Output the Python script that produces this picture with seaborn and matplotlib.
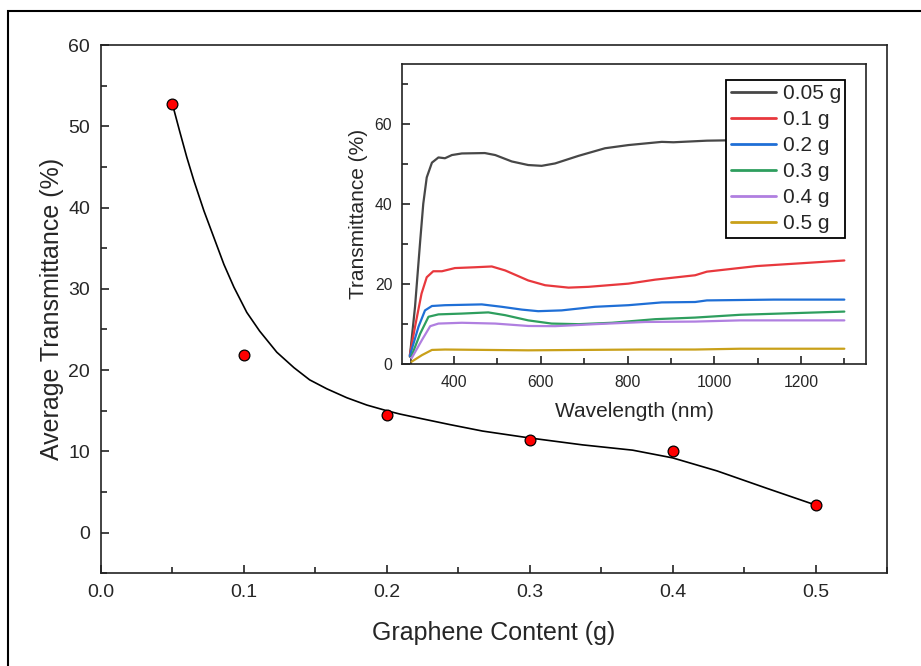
import numpy as np
import pandas as pd
import seaborn as sns
import matplotlib as mpl
mpl.use('Agg')
import matplotlib.pyplot as plt
from matplotlib.patches import Rectangle
from matplotlib.ticker import MultipleLocator

# ---------------------------------------------------------
# main panel: average transmittance vs graphene content
content = [0.05, 0.1, 0.2, 0.3, 0.4, 0.5]
avg_trans = [52.7, 21.9, 14.5, 11.4, 10.1, 3.4]

# smooth guide line
fit_x = [0.050, 0.055, 0.060, 0.065, 0.072, 0.079, 0.086, 0.093, 0.102, 0.111,
         0.123, 0.135, 0.146, 0.158, 0.172, 0.186, 0.200, 0.209, 0.225, 0.244,
         0.267, 0.300, 0.337, 0.372, 0.400, 0.431, 0.466, 0.500]
fit_y = [52.7, 49.4, 46.2, 43.3, 39.6, 36.3, 33.0, 30.2, 27.1, 24.8,
         22.2, 20.3, 18.8, 17.7, 16.6, 15.7, 15.0, 14.6, 14.0, 13.3,
         12.5, 11.65, 10.8, 10.15, 9.2, 7.6, 5.45, 3.4]

# inset: transmittance spectra
labels = ['0.05 g', '0.1 g', '0.2 g', '0.3 g', '0.4 g', '0.5 g']
colors = ['#474747', '#e8383d', '#1f6fd6', '#2e9e5e', '#b07fe0', '#c9a019']

wl_005 = [298, 310, 322, 329, 337, 349, 364, 379, 395, 418, 471, 495, 533, 571,
          602, 633, 687, 748, 802, 879, 906, 983, 1100, 1200, 1300]
tr_005 = [1.7, 14.2, 30.8, 40.0, 46.6, 50.3, 51.6, 51.4, 52.2, 52.6, 52.7, 52.2,
          50.6, 49.7, 49.5, 50.1, 52.0, 53.9, 54.7, 55.5, 55.4, 55.8, 56.0,
          56.1, 56.2]

wl_01 = [298, 310, 325, 337, 352, 372, 402, 448, 487, 518, 571, 610, 664, 710,
         802, 864, 956, 983, 1098, 1200, 1300]
tr_01 = [2.1, 9.2, 17.5, 21.6, 23.1, 23.1, 23.9, 24.1, 24.3, 23.3, 20.8, 19.6,
         19.0, 19.2, 20.0, 21.0, 22.1, 23.0, 24.4, 25.1, 25.8]

wl_02 = [298, 318, 333, 349, 379, 464, 510, 556, 594, 648, 725, 802, 879, 956,
         983, 1137, 1300]
tr_02 = [1.9, 9.2, 13.3, 14.4, 14.6, 14.8, 14.2, 13.5, 13.1, 13.3, 14.2, 14.6,
         15.3, 15.4, 15.8, 16.0, 16.0]

wl_03 = [302, 322, 341, 364, 418, 479, 518, 571, 625, 687, 764, 864, 956, 1060,
         1180, 1300]
tr_03 = [1.9, 7.5, 11.7, 12.3, 12.5, 12.8, 12.1, 10.8, 10.0, 9.85, 10.2, 11.1,
         11.5, 12.2, 12.6, 13.0]

wl_04 = [302, 326, 345, 364, 418, 495, 571, 633, 725, 841, 956, 1060, 1300]
tr_04 = [1.3, 5.9, 9.35, 10.0, 10.2, 10.0, 9.4, 9.35, 9.85, 10.4, 10.5, 10.8,
         10.8]

wl_05 = [302, 326, 349, 379, 571, 829, 956, 1060, 1300]
tr_05 = [0.45, 2.1, 3.4, 3.5, 3.3, 3.5, 3.5, 3.7, 3.7]

spectra = [(wl_005, tr_005), (wl_01, tr_01), (wl_02, tr_02),
           (wl_03, tr_03), (wl_04, tr_04), (wl_05, tr_05)]

df_main = pd.DataFrame({'x': content, 'y': avg_trans})
df_fit = pd.DataFrame({'x': fit_x, 'y': fit_y})

frames = []
for lab, (wl, tr) in zip(labels, spectra):
    frames.append(pd.DataFrame({'wl': wl, 'T': tr, 'sample': lab}))
df_spec = pd.concat(frames, axis=0, ignore_index=True)

# ---------------------------------------------------------
sns.set_style('ticks')
plt.rcParams['font.family'] = ['Liberation Sans', 'DejaVu Sans']
plt.rcParams['axes.edgecolor'] = '#222222'
plt.rcParams['axes.linewidth'] = 1.2
plt.rcParams['lines.solid_joinstyle'] = 'round'

fig = plt.figure(figsize=(9.21, 6.66), dpi=100)

ax = fig.add_axes([0.1097, 0.1392, 0.8534, 0.7932])
sns.lineplot(data=df_fit, x='x', y='y', color='black', lw=1.2, ax=ax, sort=False)
sns.scatterplot(data=df_main, x='x', y='y', color='#ff0000', edgecolor='black',
                linewidth=0.9, s=60, zorder=5, ax=ax)

ax.set_xlim(0, 0.55)
ax.set_ylim(-5, 60)
ax.xaxis.set_major_locator(MultipleLocator(0.1))
ax.xaxis.set_minor_locator(MultipleLocator(0.05))
ax.yaxis.set_major_locator(MultipleLocator(10))
ax.yaxis.set_minor_locator(MultipleLocator(5))
ax.xaxis.set_major_formatter(mpl.ticker.FormatStrFormatter('%.1f'))
ax.tick_params(which='both', direction='in', top=False, right=False,
               labelsize=14, width=1.2, color='#222222')
ax.tick_params(which='major', length=6)
ax.tick_params(which='minor', length=4)
ax.tick_params(axis='x', pad=8)
ax.tick_params(axis='y', pad=8)
ax.set_xlabel('Graphene Content (g)', fontsize=18, labelpad=14)
ax.set_ylabel('Average Transmittance (%)', fontsize=18, labelpad=3)

# inset
ax2 = fig.add_axes([0.4365, 0.4542, 0.5038, 0.4497])
sns.lineplot(data=df_spec, x='wl', y='T', hue='sample', palette=colors,
             lw=1.6, ax=ax2, sort=False)
ax2.set_xlim(280, 1350)
ax2.set_ylim(0, 75)
ax2.xaxis.set_major_locator(MultipleLocator(200))
ax2.xaxis.set_minor_locator(MultipleLocator(100))
ax2.yaxis.set_major_locator(MultipleLocator(20))
ax2.yaxis.set_minor_locator(MultipleLocator(10))
ax2.tick_params(which='both', direction='in', top=False, right=False,
                labelsize=11.3, width=1.2, color='#222222')
ax2.tick_params(which='major', length=6)
ax2.tick_params(which='minor', length=4)
ax2.tick_params(axis='x', pad=8)
ax2.tick_params(axis='y', pad=7)
ax2.set_xlabel('Wavelength (nm)', fontsize=15, labelpad=9)
ax2.set_ylabel('Transmittance (%)', fontsize=15, labelpad=5)

leg = ax2.legend(loc='upper right', bbox_to_anchor=(0.955, 0.947),
                 borderaxespad=0, fontsize=15, frameon=True, fancybox=False,
                 handlelength=2.2, handletextpad=0.3, labelspacing=0.34,
                 borderpad=0.2)
leg.get_frame().set_edgecolor('black')
leg.get_frame().set_linewidth(1.3)
leg.get_frame().set_alpha(1)
for line in leg.get_lines():
    line.set_linewidth(2.0)

# outer frame round the figure
fig.patches.append(Rectangle((8 / 921, -0.1), 1.2, 1 - 11 / 666 + 0.1,
                             transform=fig.transFigure, fill=False,
                             edgecolor='black', lw=1.5))

plt.savefig('out.png', dpi=100)
